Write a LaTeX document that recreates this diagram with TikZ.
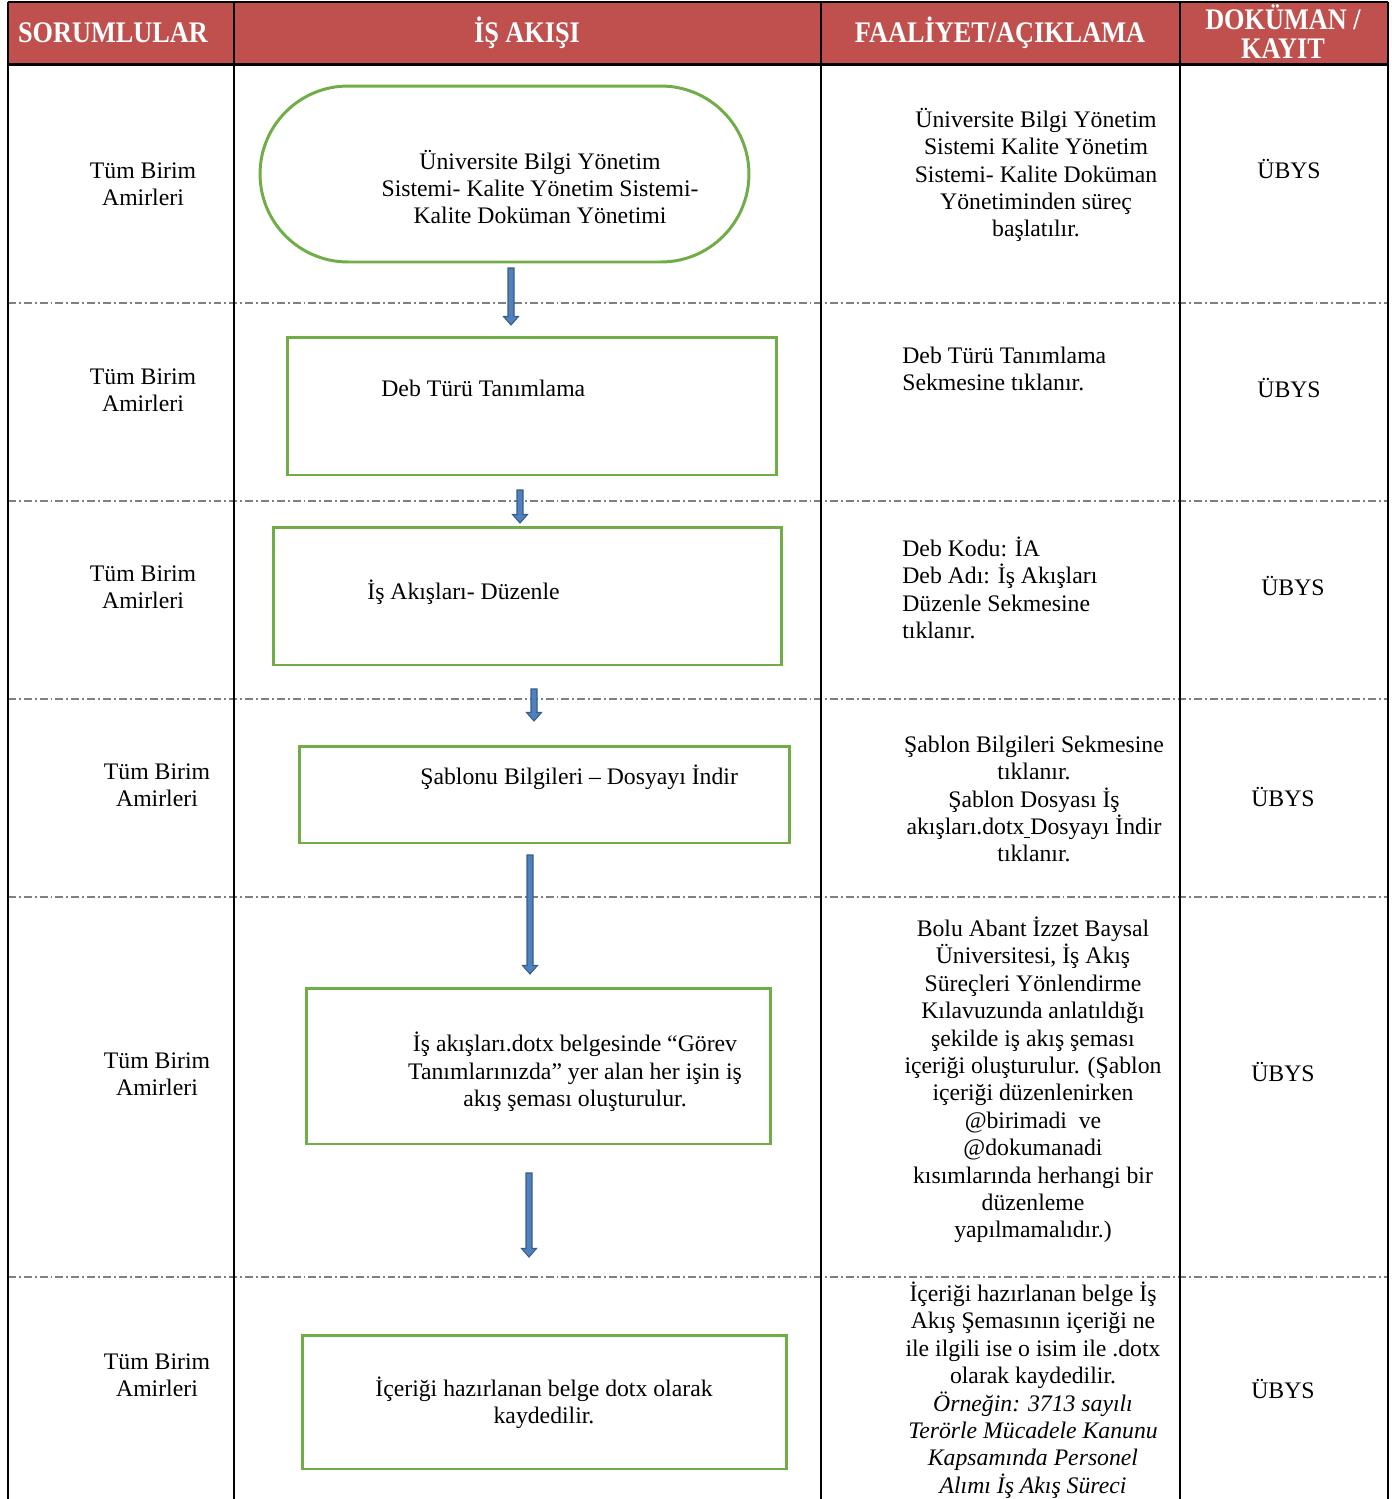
\documentclass[tikz,border=0pt]{standalone}
\usepackage{fontspec}
\setmainfont{Liberation Serif}
\usetikzlibrary{calc}
\definecolor{headred}{HTML}{C0504D}
\definecolor{boxgreen}{HTML}{70AD47}
\definecolor{arrowfill}{HTML}{4F81BD}
\definecolor{arrowedge}{HTML}{385D8A}
% block arrow between two named coordinates
\newcommand{\flowarrow}[2]{%
  \filldraw[draw=arrowedge, fill=arrowfill, line width=0.6pt]
    let \p1=(#1), \p2=(#2) in
    (\x1-0.06cm,\y1) -- (\x1+0.06cm,\y1) -- (\x1+0.06cm,\y2+0.17cm)
    -- (\x1+0.15cm,\y2+0.17cm) -- (\x1,\y2) -- (\x1-0.15cm,\y2+0.17cm)
    -- (\x1-0.06cm,\y2+0.17cm) -- cycle;}
\tikzset{
  headtext/.style={text=white, font=\fontsize{17}{16.5}\selectfont\bfseries, align=center, xscale=0.88, transform shape},
  celltext/.style={font=\fontsize{13.5}{15.6}\selectfont, align=center, inner sep=0pt},
  cellleft/.style={celltext, align=left, anchor=west},
  flowbox/.style={draw=boxgreen, line width=1.7pt, inner sep=0pt},
  rowline/.style={draw=gray, line width=0.8pt, dash pattern=on 4.5pt off 1.7pt on 1.1pt off 1.7pt},
  gridline/.style={draw=black, line width=1.2pt}
}
\begin{document}
\begin{tikzpicture}[x=0.02cm, y=-0.02cm]
  \useasboundingbox (0,0) rectangle (1392,1499);
  % header
  \fill[headred] (8,2) rectangle (1388,64);
  \node[headtext] (h1) at (113,33) {SORUMLULAR};
  \node[headtext] (h2) at (527,33) {İŞ AKIŞI};
  \node[headtext] (h3) at (1000,33) {FAALİYET/AÇIKLAMA};
  \node[headtext] (h4) at (1283,32) {DOKÜMAN /\\KAYIT};
  % row separators
  \foreach \ry in {303,501,699,897,1277}
    \draw[rowline] (8,\ry) -- (1388,\ry);
  % grid
  \draw[gridline] (8,2) -- (1388,2);
  \draw[gridline] (8,2) -- (8,1499);
  \draw[gridline] (234,2) -- (234,1499);
  \draw[gridline] (821,2) -- (821,1499);
  \draw[gridline] (1180,2) -- (1180,1499);
  \draw[gridline] (1388,2) -- (1388,1499);
  \draw[draw=black, line width=1.7pt] (8,64) -- (1388,64);

  % responsible column
  \node[celltext] (resp1) at (143,184) {Tüm Birim\\Amirleri};
  \node[celltext] (resp2) at (143,390) {Tüm Birim\\Amirleri};
  \node[celltext] (resp3) at (143,587) {Tüm Birim\\Amirleri};
  \node[celltext] (resp4) at (157,785) {Tüm Birim\\Amirleri};
  \node[celltext] (resp5) at (157,1074) {Tüm Birim\\Amirleri};
  \node[celltext] (resp6) at (157,1375) {Tüm Birim\\Amirleri};

  % flow shapes
  \node[flowbox, rounded corners=1.76cm, minimum width=9.78cm, minimum height=3.52cm] (box1) at (504.5,174) {};
  \node[celltext] (txt1) at (540,187) {Üniversite Bilgi Yönetim\\Sistemi- Kalite Yönetim Sistemi-\\Kalite Doküman Yönetimi};
  \node[flowbox, minimum width=9.8cm, minimum height=2.76cm] (box2) at (532,406) {};
  \node[cellleft] (txt2) at (381,388) {Deb Türü Tanımlama};
  \node[flowbox, minimum width=10.18cm, minimum height=2.76cm] (box3) at (527.5,596) {};
  \node[cellleft] (txt3) at (367,592) {İş Akışları- Düzenle};
  \node[flowbox, minimum width=9.82cm, minimum height=1.94cm] (box4) at (544.5,794.5) {};
  \node[cellleft] (txt4) at (420,777) {Şablonu Bilgileri – Dosyayı İndir};
  \node[flowbox, minimum width=9.3cm, minimum height=3.12cm] (box5) at (538.5,1066) {};
  \node[celltext] (txt5) at (575,1072) {İş akışları.dotx belgesinde “Görev\\Tanımlarınızda” yer alan her işin iş\\akış şeması oluşturulur.};
  \node[flowbox, minimum width=9.7cm, minimum height=2.68cm] (box6) at (544.5,1402) {};
  \node[celltext] (txt6) at (544,1403) {İçeriği hazırlanan belge dotx olarak\\kaydedilir.};

  % arrows
  \coordinate (a1s) at (511,268);  \coordinate (a1e) at (511,325);
  \coordinate (a2s) at (520,490);  \coordinate (a2e) at (520,523);
  \coordinate (a3s) at (534,689);  \coordinate (a3e) at (534,721);
  \coordinate (a4s) at (530,855);  \coordinate (a4e) at (530,974);
  \coordinate (a5s) at (529,1173); \coordinate (a5e) at (529,1257);
  \flowarrow{a1s}{a1e}
  \flowarrow{a2s}{a2e}
  \flowarrow{a3s}{a3e}
  \flowarrow{a4s}{a4e}
  \flowarrow{a5s}{a5e}

  % description column
  \node[celltext] (desc1) at (1036,175) {Üniversite Bilgi Yönetim\\Sistemi Kalite Yönetim\\Sistemi- Kalite Doküman\\Yönetiminden süreç\\başlatılır.};
  \node[cellleft] (desc2) at (902,369) {Deb Türü Tanımlama\\Sekmesine tıklanır.};
  \node[cellleft] (desc3) at (902,588) {Deb Kodu: İA\\Deb Adı: İş Akışları\\Düzenle Sekmesine\\tıklanır.};
  \node[celltext] (desc4) at (1034,799) {Şablon Bilgileri Sekmesine\\tıklanır.\\Şablon Dosyası İş\\akışları.dotx\underline{\ }Dosyayı İndir\\tıklanır.};
  \node[celltext] (desc5) at (1033,1080) {Bolu Abant İzzet Baysal\\Üniversitesi, İş Akış\\Süreçleri Yönlendirme\\Kılavuzunda anlatıldığı\\şekilde iş akış şeması\\içeriği oluşturulur. (Şablon\\içeriği düzenlenirken\\@birimadi\ \ ve\\@dokumanadi\\kısımlarında herhangi bir\\düzenleme\\yapılmamalıdır.)};
  \node[celltext] (desc6) at (1033,1390) {İçeriği hazırlanan belge İş\\Akış Şemasının içeriği ne\\ile ilgili ise o isim ile .dotx\\olarak kaydedilir.\\\textit{Örneğin: 3713 sayılı}\\\textit{Terörle Mücadele Kanunu}\\\textit{Kapsamında Personel}\\\textit{Alımı İş Akış Süreci}};

  % document column
  \node[celltext] (doc1) at (1289,169) {ÜBYS};
  \node[celltext] (doc2) at (1289,388) {ÜBYS};
  \node[celltext] (doc3) at (1293,586) {ÜBYS};
  \node[celltext] (doc4) at (1283,797) {ÜBYS};
  \node[celltext] (doc5) at (1283,1072) {ÜBYS};
  \node[celltext] (doc6) at (1283,1389) {ÜBYS};
\end{tikzpicture}
\end{document}
